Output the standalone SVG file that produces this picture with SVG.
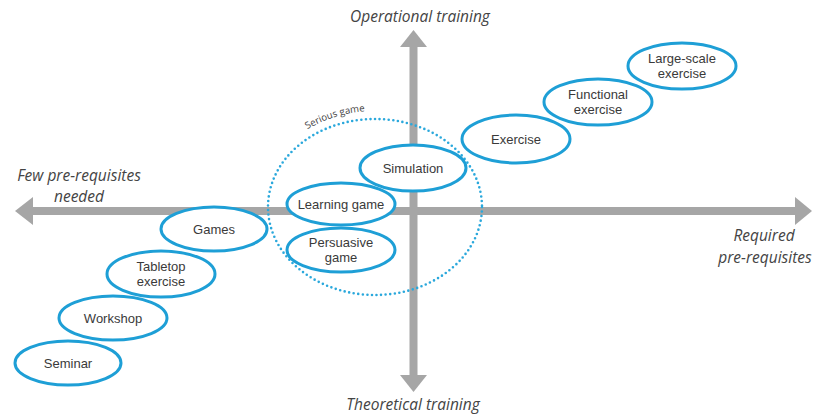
<svg xmlns="http://www.w3.org/2000/svg" width="814" height="414" viewBox="0 0 814 414">
<style>
.ax{fill:#a6a6a6}
.node ellipse{fill:#fff;stroke:#1e9fd6;stroke-width:3}
.node text{font-family:"Liberation Sans",Arial,sans-serif;font-size:13px;fill:#3a3a3a;text-anchor:middle}
.lbl{font-family:"Open Sans","Liberation Sans",sans-serif;font-size:15.5px;font-style:italic;fill:#444;text-anchor:middle}
</style>
<rect width="814" height="414" fill="#fff"/>
<g id="axes">
<rect class="ax" x="33" y="207" width="762" height="8"/>
<polygon class="ax" points="15,211 33,197 33,225"/>
<polygon class="ax" points="812,211 795,197 795,225"/>
<rect class="ax" x="409.5" y="47" width="8" height="328"/>
<polygon class="ax" points="413.5,30 400,47 427,47"/>
<polygon class="ax" points="413.5,392 400,375 427,375"/>
</g>
<g id="axis-labels">
<text class="lbl" x="420" y="22">Operational training</text>
<text class="lbl" x="413" y="410">Theoretical training</text>
<text class="lbl" x="79" y="181">Few pre-requisites</text>
<text class="lbl" x="79" y="202">needed</text>
<text class="lbl" x="764" y="241">Required</text>
<text class="lbl" x="765" y="263">pre-requisites</text>
</g>
<g id="serious-game">
<defs><path id="sgArc" d="M260,207 A115,96 0 0 1 375,111"/></defs>
<ellipse cx="375" cy="207" rx="107" ry="88" fill="none" stroke="#2aa8dc" stroke-width="2.6" stroke-dasharray="0 4.6" stroke-linecap="round"/>
<text font-family="Open Sans, Liberation Sans, sans-serif" font-size="9.6" fill="#444"><textPath href="#sgArc" startOffset="95">Serious game</textPath></text>
</g>
<g id="seminar" class="node"><ellipse cx="68" cy="363" rx="53" ry="22"/><text x="68" y="367.5">Seminar</text></g>
<g id="workshop" class="node"><ellipse cx="113" cy="318" rx="54" ry="22"/><text x="113" y="322.5">Workshop</text></g>
<g id="tabletop" class="node"><ellipse cx="161" cy="274" rx="54" ry="23"/><text x="161" y="270.5">Tabletop</text><text x="161" y="285.5">exercise</text></g>
<g id="games" class="node"><ellipse cx="214" cy="229" rx="53" ry="22"/><text x="214" y="233.5">Games</text></g>
<g id="learning-game" class="node"><ellipse cx="341" cy="204" rx="54" ry="21"/><text x="341" y="208.5">Learning game</text></g>
<g id="persuasive-game" class="node"><ellipse cx="341" cy="250" rx="54" ry="22"/><text x="341" y="246.5">Persuasive</text><text x="341" y="261.5">game</text></g>
<g id="simulation" class="node"><ellipse cx="413" cy="168" rx="53" ry="23"/><text x="413" y="172.5">Simulation</text></g>
<g id="exercise" class="node"><ellipse cx="516" cy="139" rx="54" ry="24"/><text x="516" y="143.5">Exercise</text></g>
<g id="functional-exercise" class="node"><ellipse cx="598" cy="102" rx="54" ry="23"/><text x="598" y="98.5">Functional</text><text x="598" y="113.5">exercise</text></g>
<g id="large-scale-exercise" class="node"><ellipse cx="682" cy="66" rx="54" ry="23"/><text x="682" y="62.5">Large-scale</text><text x="682" y="77.5">exercise</text></g>
</svg>
